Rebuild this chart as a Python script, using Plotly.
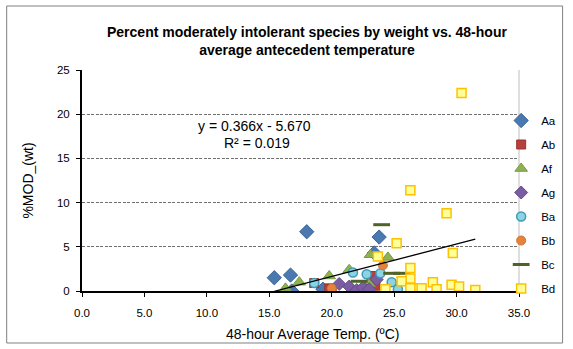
import plotly.graph_objects as go

# ---- data ----
aa_x = [15.4, 16.7, 16.8, 18.0, 19.3, 22.7, 23.4, 23.8]
aa_y = [1.5, 1.8, 0.0, 6.7, 0.2, 0.1, 4.3, 6.1]

ab_x = [18.6, 19.8, 20.0, 23.2, 23.5]
ab_y = [0.9, 0.3, 0.2, 1.7, 0.6]

af_x = [16.3, 17.4, 19.8, 21.4, 23.0, 23.1, 24.5]
af_y = [0.3, 1.0, 1.7, 2.4, 0.8, 4.1, 3.8]

ag_x = [20.6, 21.4, 22.0, 22.5, 23.0, 23.6]
ag_y = [0.8, 0.5, 0.1, 0.4, 0.2, 1.3]

ba_x = [18.6, 21.7, 22.8, 23.9, 24.8, 25.3]
ba_y = [0.9, 2.1, 1.9, 2.0, 1.0, 0.2]

bb_x = [20.0, 24.1]
bb_y = [0.3, 2.9]

bc_x = [22.2, 24.0, 24.8, 25.6]
bc_y = [1.1, 7.5, 2.0, 2.0]

bd_x = [30.4, 26.3, 29.2, 25.2, 29.7, 23.7, 26.3, 26.3, 25.6, 28.1, 29.6,
        30.2, 24.3, 26.6, 27.2, 28.4, 31.5, 26.3]
bd_y = [22.4, 11.4, 8.8, 5.4, 4.3, 3.9, 2.6, 1.4, 1.1, 1.0, 0.7,
        0.5, 0.2, 0.3, 0.3, 0.2, 0.1, 0.3]

trend_slope = 0.366
trend_intercept = -5.670
trend_r2 = 0.019

x_ticks = [0, 5, 10, 15, 20, 25, 30, 35]
y_ticks = [0, 5, 10, 15, 20, 25]

series = [
    ("Aa", aa_x, aa_y, dict(symbol="diamond", size=11, color="#4A78B0",
                            line=dict(color="#3D6596", width=1))),
    ("Ab", ab_x, ab_y, dict(symbol="square", size=9, color="#B5403C",
                            line=dict(color="#9A3532", width=1))),
    ("Af", af_x, af_y, dict(symbol="triangle-up", size=11, color="#8FB152",
                            line=dict(color="#7A9944", width=1))),
    ("Ag", ag_x, ag_y, dict(symbol="diamond", size=10, color="#7A5CA0",
                            line=dict(color="#654C86", width=1))),
    ("Ba", ba_x, ba_y, dict(symbol="circle", size=9, color="#8DD3E3",
                            line=dict(color="#3E9BB5", width=1.5))),
    ("Bb", bb_x, bb_y, dict(symbol="circle", size=9, color="#E5823C",
                            line=dict(color="#D37430", width=1))),
    ("Bc", bc_x, bc_y, dict(symbol="line-ew", size=12,
                            line=dict(color="#4F6228", width=3))),
    ("Bd", bd_x, bd_y, dict(symbol="square", size=9, color="#FFFF99",
                            line=dict(color="#FFC000", width=1.5))),
]

fig = go.Figure()
for name, xs, ys, mk in series:
    fig.add_trace(go.Scatter(x=xs, y=ys, mode="markers", name=name,
                             marker=mk, legendgroup=name))

all_x = [v for _, xs, _, _ in series for v in xs]
tx = [min(all_x), max(all_x)]
ty = [trend_slope * v + trend_intercept for v in tx]
fig.add_trace(go.Scatter(x=tx, y=ty, mode="lines", showlegend=False,
                         line=dict(color="black", width=1.3)))

font = "Liberation Sans, Arial, sans-serif"
W, H = 573, 349
L, R, T, B = 82, 50, 70, 58
PW, PH = W - L - R, H - T - B


def px_x(p):
    return (p - L) / PW


def px_y(p):
    return (H - B - p) / PH


fig.update_layout(
    width=W, height=H,
    margin=dict(l=L, r=R, t=T, b=B),
    paper_bgcolor="white", plot_bgcolor="white",
    font=dict(family=font, size=11.5, color="black"),
    title=dict(
        text="<b>Percent moderately intolerant species by weight vs. 48-hour"
             "<br>average antecedent temperature</b>",
        x=px_x(309), xref="paper", xanchor="center",
        y=1 - 37 / H, yref="container", yanchor="middle",
        font=dict(family=font, size=14, color="black")),
    showlegend=True,
    legend=dict(x=px_x(505), xanchor="left", y=px_y(106), yanchor="top",
                font=dict(family=font, size=11.5), tracegroupgap=5,
                itemwidth=30, bgcolor="rgba(0,0,0,0)"),
    xaxis=dict(range=[0, 35], tickvals=x_ticks, tickformat=".1f",
               showline=True, linecolor="black", linewidth=2,
               ticks="outside", ticklen=4, tickcolor="black",
               ticklabelstandoff=6,
               showgrid=False, zeroline=False),
    yaxis=dict(range=[0, 25], tickvals=y_ticks,
               showline=True, linecolor="black", linewidth=2,
               ticks="outside", ticklen=4, tickcolor="black",
               ticklabelstandoff=4,
               showgrid=True, gridcolor="#707070", gridwidth=1,
               griddash="3px,1.5px", zeroline=False,
               title=dict(text="%MOD_(wt)", font=dict(family=font, size=14),
                          standoff=20)),
)

# x-axis title placed where the reference has it
fig.add_annotation(text="48-hour Average Temp. (ºC)", xref="paper",
                   yref="paper", x=px_x(315), y=px_y(334), showarrow=False,
                   xanchor="center", yanchor="middle",
                   font=dict(family=font, size=14))

# plot-area right border and outer chart border
fig.add_shape(type="line", xref="paper", yref="paper", x0=1, x1=1, y0=0, y1=1,
              line=dict(color="#BFBFBF", width=1))
fig.add_shape(type="rect", xref="paper", yref="paper",
              x0=px_x(6), x1=px_x(567), y0=px_y(343), y1=px_y(6),
              line=dict(color="#808080", width=1), layer="below")

fig.add_annotation(text=f"y = {trend_slope:.3f}x - {abs(trend_intercept):.3f}",
                   xref="paper", yref="paper", x=px_x(256), y=px_y(126),
                   xanchor="center", yanchor="middle",
                   showarrow=False, font=dict(family=font, size=14))
fig.add_annotation(text=f"R² = {trend_r2:.3f}",
                   xref="paper", yref="paper", x=px_x(259), y=px_y(143),
                   xanchor="center", yanchor="middle",
                   showarrow=False, font=dict(family=font, size=14))

fig.write_html("out.html", config={"displayModeBar": False},
               post_script="document.body.style.margin='0';")
